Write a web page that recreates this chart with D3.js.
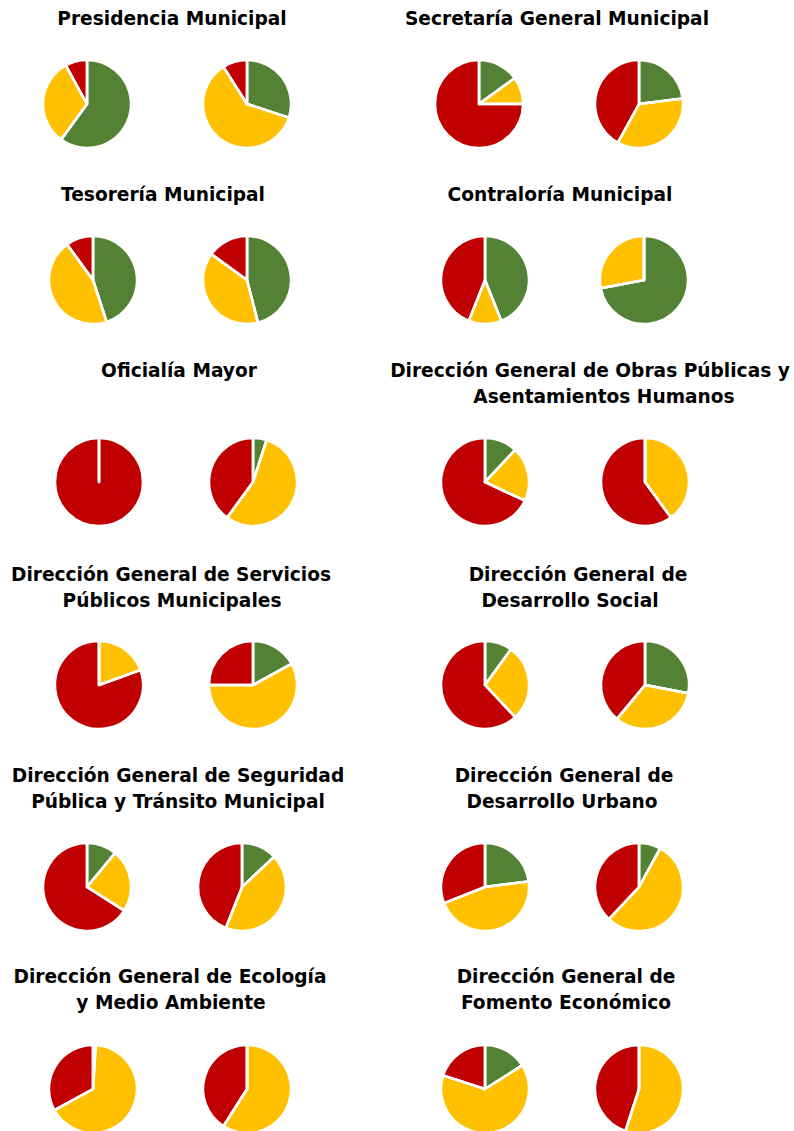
<!DOCTYPE html>
<html><head><meta charset="utf-8">
<script src="https://cdn.jsdelivr.net/npm/d3@7"></script>
<style>html,body{margin:0;padding:0;background:#fff}svg{display:block}</style>
</head><body>
<svg id="c" width="794" height="1131"></svg>
<script>
// ---- data ----
const titles = [
  ["Presidencia Municipal"],
  ["Secretaría General Municipal"],
  ["Tesorería Municipal"],
  ["Contraloría Municipal"],
  ["Oficialía Mayor"],
  ["Dirección General de Obras Públicas y", "Asentamientos Humanos"],
  ["Dirección General de Servicios", "Públicos Municipales"],
  ["Dirección General de", "Desarrollo Social"],
  ["Dirección General de Seguridad", "Pública y Tránsito Municipal"],
  ["Dirección General de", "Desarrollo Urbano"],
  ["Dirección General de Ecología", "y Medio Ambiente"],
  ["Dirección General de", "Fomento Económico"]
];
const categories = ["Verde", "Amarillo", "Rojo"];
// left pie of each panel
const green1  = [60, 15, 45, 44, 0, 12, 0, 10, 11, 23, 1, 16];
const yellow1 = [32, 10, 45, 12, 0, 20, 19.5, 28, 23, 46, 66, 64];
const red1    = [8, 75, 10, 44, 100, 68, 80.5, 62, 66, 31, 33, 20];
// right pie of each panel
const green2  = [30, 23, 46, 72, 5, 0, 17, 28, 13, 8, 0, 0];
const yellow2 = [61, 35, 39, 28, 55, 40, 58, 33, 43, 54, 59, 55];
const red2    = [9, 42, 15, 0, 40, 60, 25, 39, 44, 38, 41, 45];

// ---- layout ----
const colors = d3.scaleOrdinal().domain(categories).range(["#548235", "#FFC000", "#C00000"]);
const rowPieY = [104, 280, 482, 685, 887, 1089];
const rowTitleY = [25, 201, 377, 581, 782, 983];
const pieX = [[87,247],[479,639],[93,247],[485,644],[99,253],[485,645],
              [99,253],[485,645],[87,242],[485,639],[93,247],[485,639]];
const titleX = [[172], [557], [163], [560], [179], [590, 604], [171, 172], [578, 570],
                [178, 178], [564, 562], [170, 171], [566, 566]];
const R = 44;
const SW = 2.5;

const svg = d3.select("#c");
const pie = d3.pie().sort(null).value(d => d.v);
const arc = d3.arc().innerRadius(0).outerRadius(R);

titles.forEach((lines, i) => {
  const row = Math.floor(i / 2);
  const g = svg.append("g");
  const t = g.append("text")
    .attr("text-anchor", "middle")
    .attr("font-family", "'DejaVu Sans', sans-serif")
    .attr("font-weight", "bold")
    .attr("font-size", 18.6)
    .attr("fill", "#000");
  lines.forEach((ln, k) => {
    t.append("tspan").attr("x", titleX[i][k]).attr("y", rowTitleY[row] + k * 26).text(ln);
  });
  const sets = [[green1[i], yellow1[i], red1[i]], [green2[i], yellow2[i], red2[i]]];
  sets.forEach((vals, j) => {
    const data = vals.map((v, k) => ({ c: categories[k], v: v }));
    const arcs = pie(data);
    const pg = g.append("g").attr("transform", `translate(${pieX[i][j]},${rowPieY[row]})`);
    pg.selectAll("path.slice").data(arcs).join("path")
      .attr("class", "slice")
      .attr("d", arc)
      .attr("fill", d => colors(d.data.c))
      .attr("stroke", "#fff")
      .attr("stroke-width", SW)
      .attr("stroke-linejoin", "round");
    // slice borders along radii (also for empty / full slices)
    pg.selectAll("line.edge").data(arcs).join("line")
      .attr("class", "edge")
      .attr("x1", 0).attr("y1", 0)
      .attr("x2", d => d3.pointRadial(d.startAngle, R)[0])
      .attr("y2", d => d3.pointRadial(d.startAngle, R)[1])
      .attr("stroke", "#fff")
      .attr("stroke-width", SW)
      .attr("stroke-linecap", "round");
  });
});
</script>
</body></html>
